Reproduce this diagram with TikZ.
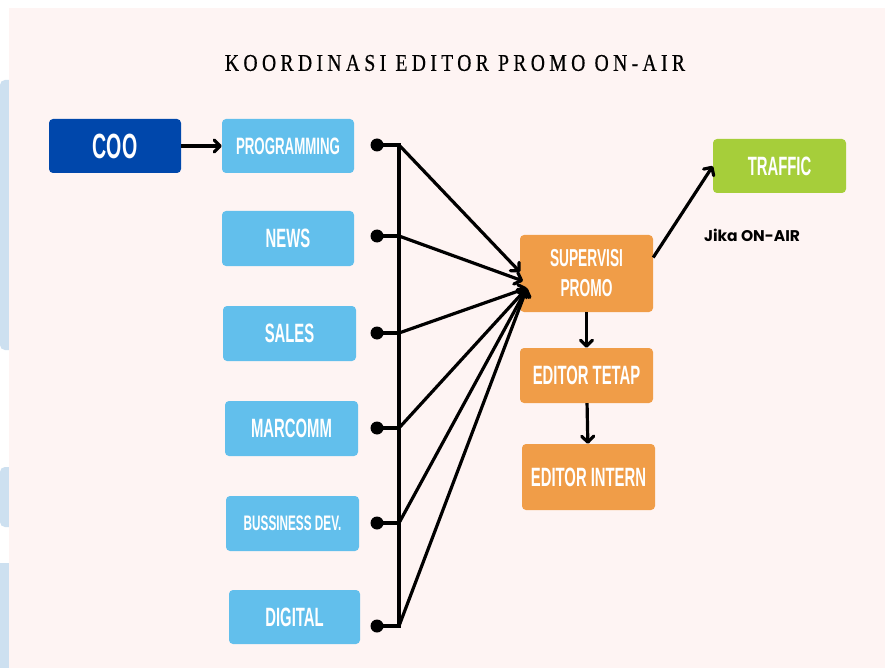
\documentclass[tikz,border=0pt]{standalone}
\usepackage{fontspec}
\usetikzlibrary{arrows.meta}
\newfontfamily\boxfont[FakeStretch=0.56]{Liberation Sans}
\newfontfamily\titlefont[FakeStretch=0.82,LetterSpace=18,FakeBold=0.4]{Liberation Serif}
\newfontfamily\notefont{Poppins}
\definecolor{bgpink}{HTML}{FEF4F3}
\definecolor{cooblue}{HTML}{0047AB}
\definecolor{unitblue}{HTML}{62BFEC}
\definecolor{promoorange}{HTML}{F09D48}
\definecolor{trafficgreen}{HTML}{A6CE3A}
\definecolor{markblue}{HTML}{CDE0F0}
\begin{document}
\begin{tikzpicture}[x=1pt,y=-1pt,
  box/.style={rounded corners=4pt,text=white,minimum width=132pt,minimum height=54pt,inner sep=0pt,align=center,
    font=\boxfont\bfseries\fontsize{26.5}{30}\selectfont},
  unit/.style={box,fill=unitblue},
  promo/.style={box,fill=promoorange},
  dot/.style={circle,fill=black,inner sep=0pt,minimum size=13pt},
  link/.style={line width=3.2pt,black},
  arrow/.style={link,-{Straight Barb[length=6pt,width=12pt,round]}}]
  \useasboundingbox (0,0) rectangle (885,668);
  \fill[white] (0,0) rectangle (885,668);
  \fill[markblue,rounded corners=5pt] (0,80) rectangle (20,350);
  \fill[markblue,rounded corners=5pt] (0,467) rectangle (20,527);
  \fill[markblue] (0,563) rectangle (20,668);
  \fill[bgpink] (9,8) rectangle (885,668);

  \node[font=\titlefont\fontsize{24}{26}\selectfont] (title) at (455,63) {KOORDINASI EDITOR PROMO ON-AIR};

  \node[box,fill=cooblue,font=\boxfont\bfseries\fontsize{35}{38}\selectfont] (coo) at (115,146) {COO};
  \node[unit,font=\boxfont\bfseries\fontsize{23.7}{26}\selectfont] (prog) at (288,146) {PROGRAMMING};
  \node[unit,minimum height=55pt] (news) at (288,238.5) {NEWS};
  \node[unit,minimum width=133pt,minimum height=55pt] (sales) at (289.5,333.5) {SALES};
  \node[unit,minimum width=133pt,minimum height=55pt] (marcomm) at (291.5,428.5) {MARCOMM};
  \node[unit,minimum width=133pt,minimum height=55pt,font=\boxfont\bfseries\fontsize{21}{24}\selectfont] (bdev) at (292.5,523.5) {BUSSINESS DEV.};
  \node[unit,minimum width=131pt] (digital) at (294.5,617) {DIGITAL};

  \node[promo,minimum width=133pt,minimum height=77pt,font=\boxfont\bfseries\fontsize{24.5}{30}\selectfont] (sup) at (586.5,273.5) {SUPERVISI\\PROMO};
  \node[promo,minimum width=133pt,minimum height=55pt] (tetap) at (586.5,375.5) {EDITOR TETAP};
  \node[promo,minimum width=133pt,minimum height=66pt] (intern) at (588.5,477) {EDITOR INTERN};
  \node[box,fill=trafficgreen,minimum width=133pt] (traffic) at (779.5,166) {TRAFFIC};
  \node[font=\notefont\bfseries\fontsize{15.5}{17}\selectfont] (onair) at (752,235) {Jika ON-AIR};

  \node[dot] (dprog) at (377,145) {};
  \node[dot] (dnews) at (377,236) {};
  \node[dot] (dsales) at (377,333) {};
  \node[dot] (dmarcomm) at (377,428) {};
  \node[dot] (dbdev) at (377,523) {};
  \node[dot] (ddigital) at (377,626) {};
  \coordinate (bprog) at (399,145);
  \coordinate (bnews) at (399,236);
  \coordinate (bsales) at (399,333);
  \coordinate (bmarcomm) at (399,428);
  \coordinate (bbdev) at (399,523);
  \coordinate (bdigital) at (399,626);
  \coordinate (hubtop) at (520,272);
  \coordinate (hubmid) at (523,281);
  \coordinate (hub) at (527,288);

  \draw[arrow] (coo) -- (prog);
  \draw[link] (dprog.center) -- (bprog) -- (bdigital) -- (ddigital.center);
  \draw[link] (dnews.center) -- (bnews);
  \draw[link] (dsales.center) -- (bsales);
  \draw[link] (dmarcomm.center) -- (bmarcomm);
  \draw[link] (dbdev.center) -- (bbdev);
  \draw[arrow] (bprog) -- (hubtop);
  \draw[arrow] (bnews) -- (hubmid);
  \draw[arrow] (bsales) -- (hub);
  \draw[arrow] (bmarcomm) -- (hub);
  \draw[arrow] (bbdev) -- (hub);
  \draw[arrow] (bdigital) -- (hub);
  \draw[arrow] (sup) -- (tetap);
  \draw[arrow] (tetap) -- (intern);
  \draw[arrow] ([yshift=16pt]sup.east) -- (traffic.west);
\end{tikzpicture}
\end{document}
